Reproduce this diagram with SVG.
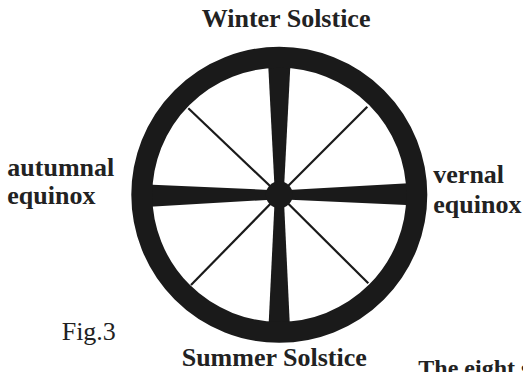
<svg xmlns="http://www.w3.org/2000/svg" width="523" height="372" viewBox="0 0 523 372">
<style>
.lbl{font-family:"Liberation Serif","Times New Roman",serif;font-weight:bold;font-size:26px;fill:#222}
.reg{font-family:"Liberation Serif","Times New Roman",serif;font-size:26px;fill:#222}
.thin{stroke:#1a1a1a;stroke-width:2.2;fill:none}
.blk{fill:#1a1a1a}
</style>
<rect width="523" height="372" fill="#fff"/>
<g id="wheel">
  <g id="connectors">
    <line class="thin" x1="279.3" y1="194.8" x2="188.3" y2="108.3"/>
    <line class="thin" x1="279.3" y1="194.8" x2="367.3" y2="106.7"/>
    <line class="thin" x1="279.3" y1="194.8" x2="191" y2="285"/>
    <line class="thin" x1="279.3" y1="194.8" x2="368.3" y2="283.3"/>
    <polygon class="blk" points="274.9,194.8 267.8,57 290.8,57 283.7,194.8"/>
    <polygon class="blk" points="274.9,194.8 268.2,333 290.2,333 283.7,194.8"/>
    <polygon class="blk" points="279.3,190.4 141.3,184.2 141.3,207.2 279.3,199.2"/>
    <polygon class="blk" points="279.3,190.4 417.3,182.8 417.3,205.6 279.3,199.2"/>
  </g>
  <circle id="rim" cx="279.3" cy="194.8" r="137.5" fill="none" stroke="#1a1a1a" stroke-width="21"/>
  <circle id="hub" class="blk" cx="279.3" cy="194.8" r="13.5"/>
</g>
<g id="winter"><text class="lbl" x="201.7" y="27.3">Winter Solstice</text></g>
<g id="summer"><text class="lbl" x="181.7" y="366">Summer Solstice</text></g>
<g id="autumnal"><text class="lbl" x="7.3" y="176">autumnal</text><text class="lbl" x="7.3" y="204.3">equinox</text></g>
<g id="vernal"><text class="lbl" x="433.3" y="183.3">vernal</text><text class="lbl" x="433.3" y="213.3">equinox</text></g>
<g id="fig"><text class="reg" x="61.7" y="340">Fig.3</text></g>
<g id="caption"><text class="lbl" style="font-size:24px" x="418.3" y="376">The eight s</text></g>
</svg>
